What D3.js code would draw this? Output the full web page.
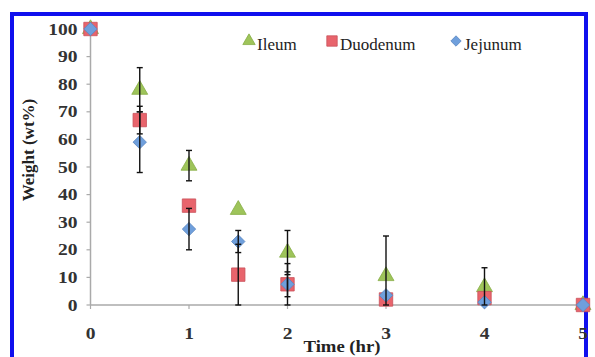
<!DOCTYPE html>
<html lang="en">
<head>
<meta charset="utf-8">
<title>weight vs time</title>
<script src="https://d3js.org/d3.v7.min.js"></script>
<style>
  body { margin: 0; background: #fff; }
  svg { display: block; }
  .tick-label { font-family: "Liberation Serif", "Times New Roman", serif; font-size: 16px; font-weight: bold; fill: #333; }
  .axis-title { font-family: "Liberation Serif", "Times New Roman", serif; font-size: 17px; font-weight: bold; fill: #222; }
  .legend { font-family: "Liberation Serif", "Times New Roman", serif; font-size: 17px; fill: #222; }
</style>
</head>
<body>
<svg width="595" height="357"></svg>
<script>
// data
const times = [0, 0.5, 1, 1.5, 2, 3, 4, 5];
const ileum = [100, 78, 50.5, 34.5, 19, 10.5, 6.5, 0];
const ileumErr = [0, 8, 5.5, 0, 8, 14.5, 7, 0];
const duodenum = [100, 67, 36, 11, 7.5, 2, 2.5, 0];
const duodenumErr = [0, 5, 0, 11, 4.5, 0, 0, 0];
const jejunum = [100, 59, 27.5, 23, 7.5, 3.5, 1, 0];
const jejunumErr = [0, 11, 7.5, 4, 7.5, 0, 0, 0];
const xTicks = [0, 1, 2, 3, 4, 5];
const yTicks = [0, 10, 20, 30, 40, 50, 60, 70, 80, 90, 100];

const svg = d3.select("svg");

// blue frame
svg.append("rect")
   .attr("x", 12).attr("y", 14).attr("width", 574).attr("height", 350)
   .attr("fill", "none").attr("stroke", "#1010ee").attr("stroke-width", 4);

const x = d3.scaleLinear().domain([0, 5]).range([90.5, 583]);
const y = d3.scaleLinear().domain([0, 100]).range([305, 29]);

// axes
const ax = svg.append("g");
ax.append("line").attr("x1", x(0)).attr("x2", x(5)).attr("y1", y(0)).attr("y2", y(0))
  .attr("stroke", "#aaa").attr("stroke-width", 1.5);
ax.append("line").attr("x1", x(0)).attr("x2", x(0)).attr("y1", y(0)).attr("y2", y(100))
  .attr("stroke", "#aaa").attr("stroke-width", 1.5);

yTicks.forEach(t => {
  ax.append("line").attr("x1", x(0) - 4).attr("x2", x(0)).attr("y1", y(t)).attr("y2", y(t))
    .attr("stroke", "#aaa").attr("stroke-width", 1.2);
  ax.append("text").attr("class", "tick-label")
    .attr("transform", "translate(" + (x(0) - 13) + "," + (y(t) + 5.5) + ") scale(1.22,1)")
    .attr("text-anchor", "end").text(t);
});
xTicks.forEach(t => {
  ax.append("line").attr("x1", x(t)).attr("x2", x(t)).attr("y1", y(0)).attr("y2", y(0) + 4)
    .attr("stroke", "#aaa").attr("stroke-width", 1.2);
  ax.append("text").attr("class", "tick-label")
    .attr("transform", "translate(" + x(t) + "," + (y(0) + 34) + ") scale(1.22,1)")
    .attr("text-anchor", "middle").text(t);
});

svg.append("text").attr("class", "axis-title")
   .attr("transform", "translate(342,352) scale(1.1,1)")
   .attr("text-anchor", "middle").text("Time (hr)");
svg.append("text").attr("class", "axis-title")
   .attr("transform", "translate(34,150) rotate(-90)")
   .attr("text-anchor", "middle").text("Weight (wt%)");

// diamond drawn as a square turned 45 degrees
const diamond = {
  draw(ctx, size) {
    const r = Math.sqrt(size / 2);
    ctx.moveTo(0, -r); ctx.lineTo(r, 0); ctx.lineTo(0, r); ctx.lineTo(-r, 0); ctx.closePath();
  }
};

const series = [
  {name: "Ileum", vals: ileum, err: ileumErr, color: "#9ec45a", stroke: "#86ad45", sym: d3.symbolTriangle, size: 110},
  {name: "Duodenum", vals: duodenum, err: duodenumErr, color: "#e8646c", stroke: "#c9505a", sym: d3.symbolSquare, size: 180},
  {name: "Jejunum", vals: jejunum, err: jejunumErr, color: "#6f9fdc", stroke: "#5a86c0", sym: diamond, size: 90}
];

series.forEach(s => {
  const g = svg.append("g");
  g.selectAll("path")
   .data(times.map((t, i) => ({t: t, v: s.vals[i]})))
   .enter().append("path")
   .attr("d", d3.symbol().type(s.sym).size(s.size))
   .attr("transform", d => "translate(" + x(d.t) + "," + y(d.v) + ")")
   .attr("fill", s.color)
   .attr("stroke", s.stroke).attr("stroke-width", 0.8);
});

// error bars on top
series.forEach(s => {
  const g = svg.append("g").attr("stroke", "#111").attr("stroke-width", 1.4);
  times.forEach((t, i) => {
    const e = s.err[i];
    if (!e) return;
    const lo = Math.max(0, s.vals[i] - e), hi = s.vals[i] + e;
    g.append("line").attr("x1", x(t)).attr("x2", x(t)).attr("y1", y(lo)).attr("y2", y(hi));
    g.append("line").attr("x1", x(t) - 3).attr("x2", x(t) + 3).attr("y1", y(hi)).attr("y2", y(hi));
    g.append("line").attr("x1", x(t) - 3).attr("x2", x(t) + 3).attr("y1", y(lo)).attr("y2", y(lo));
  });
});

// legend
const legX = [249, 332, 456];
series.forEach((s, i) => {
  svg.append("path")
     .attr("d", d3.symbol().type(s.sym).size(s.size * 0.6))
     .attr("transform", "translate(" + legX[i] + ",41)")
     .attr("fill", s.color).attr("stroke", s.stroke).attr("stroke-width", 0.8);
  svg.append("text").attr("class", "legend")
     .attr("x", legX[i] + 8).attr("y", 50).text(s.name);
});
</script>
</body>
</html>
